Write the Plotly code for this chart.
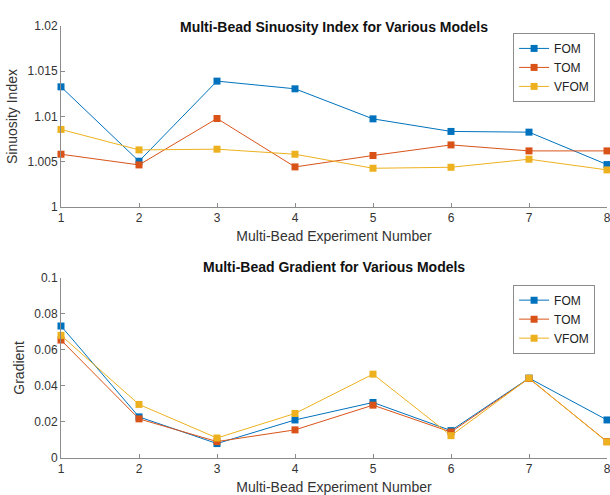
import plotly.graph_objects as go

experiments = [1, 2, 3, 4, 5, 6, 7, 8]
series_names = ["FOM", "TOM", "VFOM"]
colors = ["#0072BD", "#D95319", "#EDB120"]

sinuosity_fom = [1.01328, 1.00506, 1.01391, 1.01306, 1.00974, 1.00835, 1.00827, 1.00469]
sinuosity_tom = [1.00583, 1.00465, 1.00978, 1.00443, 1.00569, 1.00686, 1.00620, 1.00620]
sinuosity_vfom = [1.00857, 1.00631, 1.00639, 1.00583, 1.00428, 1.00439, 1.00528, 1.00410]

gradient_fom = [0.0732, 0.0228, 0.0080, 0.0211, 0.0308, 0.0152, 0.0443, 0.0211]
gradient_tom = [0.0654, 0.0217, 0.0091, 0.0156, 0.0293, 0.0144, 0.0441, 0.0091]
gradient_vfom = [0.0680, 0.0297, 0.0111, 0.0247, 0.0465, 0.0124, 0.0443, 0.0089]

sin_ticks = [1.0, 1.005, 1.01, 1.015, 1.02]
sin_ticktext = ["1", "1.005", "1.01", "1.015", "1.02"]
grad_ticks = [0, 0.02, 0.04, 0.06, 0.08, 0.1]
grad_ticktext = ["0", "0.02", "0.04", "0.06", "0.08", "0.1"]

FONT = "Liberation Sans, Arial, Helvetica, sans-serif"

fig = go.Figure()
top = [sinuosity_fom, sinuosity_tom, sinuosity_vfom]
bot = [gradient_fom, gradient_tom, gradient_vfom]
for name, col, ys in zip(series_names, colors, top):
    fig.add_trace(go.Scatter(x=experiments, y=ys, name=name, mode="lines+markers",
                             line=dict(color=col, width=1), marker=dict(symbol="square", size=7, color=col),
                             xaxis="x", yaxis="y", legend="legend", cliponaxis=False))
for name, col, ys in zip(series_names, colors, bot):
    fig.add_trace(go.Scatter(x=experiments, y=ys, name=name, mode="lines+markers",
                             line=dict(color=col, width=1), marker=dict(symbol="square", size=7, color=col),
                             xaxis="x2", yaxis="y2", legend="legend2", cliponaxis=False))

axis_common = dict(showline=True, linecolor="#8c8c8c", linewidth=1, ticks="inside", ticklen=4,
                   tickcolor="#8c8c8c", showgrid=False, zeroline=False, mirror=False,
                   ticklabeloverflow="allow", automargin=False,
                   tickfont=dict(family=FONT, size=12, color="#333333"))

legend_common = dict(bgcolor="white", bordercolor="#8c8c8c", borderwidth=1,
                     font=dict(family=FONT, size=12, color="#222222"),
                     xanchor="left", yanchor="top", itemwidth=30, tracegroupgap=0)

fig.update_layout(
    width=610, height=495,
    margin=dict(l=61, r=3, t=26, b=37),
    paper_bgcolor="white", plot_bgcolor="white",
    font=dict(family=FONT, size=12, color="#333333"),
    xaxis=dict(domain=[0, 1], anchor="y", range=[1, 8], tickvals=experiments,
               title=dict(text="Multi-Bead Experiment Number", standoff=6, font=dict(size=14)), **axis_common),
    yaxis=dict(domain=[0.581, 1], anchor="x", range=[1, 1.02], tickvals=sin_ticks, ticktext=sin_ticktext,
               title=dict(text="Sinuosity Index", standoff=6, font=dict(size=14)), **axis_common),
    xaxis2=dict(domain=[0, 1], anchor="y2", range=[1, 8], tickvals=experiments,
                title=dict(text="Multi-Bead Experiment Number", standoff=6, font=dict(size=14)), **axis_common),
    yaxis2=dict(domain=[0, 0.4174], anchor="x2", range=[0, 0.1], tickvals=grad_ticks, ticktext=grad_ticktext,
                title=dict(text="Gradient", standoff=6, font=dict(size=14)), **axis_common),
    legend=dict(x=0.828, y=0.984, **legend_common),
    legend2=dict(x=0.828, y=0.4013, **legend_common),
    annotations=[
        dict(text="<b>Multi-Bead Sinuosity Index for Various Models</b>", x=334, y=17,
             xref="paper", yref="paper", showarrow=False, font=dict(family=FONT, size=14, color="#111111")),
        dict(text="<b>Multi-Bead Gradient for Various Models</b>", x=334, y=267,
             xref="paper", yref="paper", showarrow=False, font=dict(family=FONT, size=14, color="#111111")),
    ],
)

# convert pixel positions of titles to paper coordinates
plot_left, plot_w = 61, 546
plot_top, plot_h = 26, 432
for ann in fig.layout.annotations:
    ann.x = (ann.x - plot_left) / plot_w
    ann.y = (plot_top + plot_h - ann.y) / plot_h

fig.write_html("out.html", config={"displayModeBar": False},
               post_script="document.body.style.margin='0px';document.body.style.padding='0px';")
